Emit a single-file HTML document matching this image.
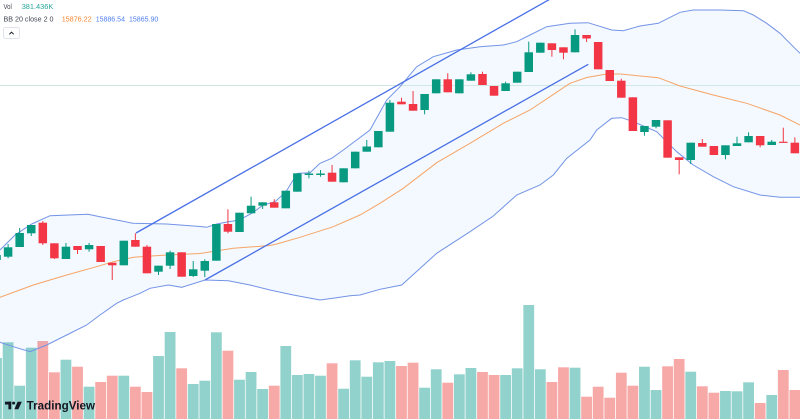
<!DOCTYPE html>
<html><head><meta charset="utf-8"><style>
html,body{margin:0;padding:0;background:#fff;}
svg{display:block;}
.u line{stroke:#089981;stroke-width:1}
.u rect{fill:#089981}
.d line{stroke:#f23645;stroke-width:1}
.d rect{fill:#f23645}
.vu{fill:#92d2cc}
.vd{fill:#f7a9a7}
text{font-family:"Liberation Sans",sans-serif;}
</style></head><body>
<svg width="800" height="419" viewBox="0 0 800 419" xmlns="http://www.w3.org/2000/svg">
<rect width="800" height="419" fill="#fff"/>
<!-- volume -->
<g>
<rect class="vu" x="-8.87" y="358" width="10.8" height="61"/>
<rect class="vu" x="2.70" y="342.3" width="10.8" height="76.7"/>
<rect class="vu" x="14.27" y="385.7" width="10.8" height="33.3"/>
<rect class="vu" x="25.84" y="347.7" width="10.8" height="71.3"/>
<rect class="vd" x="37.41" y="341" width="10.8" height="78"/>
<rect class="vd" x="48.98" y="372.3" width="10.8" height="46.7"/>
<rect class="vu" x="60.55" y="359.7" width="10.8" height="59.3"/>
<rect class="vd" x="72.12" y="366.7" width="10.8" height="52.3"/>
<rect class="vu" x="83.69" y="386.7" width="10.8" height="32.3"/>
<rect class="vd" x="95.26" y="382" width="10.8" height="37"/>
<rect class="vd" x="106.83" y="375.7" width="10.8" height="43.3"/>
<rect class="vu" x="118.40" y="375.7" width="10.8" height="43.3"/>
<rect class="vd" x="129.97" y="386.7" width="10.8" height="32.3"/>
<rect class="vd" x="141.54" y="392" width="10.8" height="27"/>
<rect class="vu" x="153.11" y="356" width="10.8" height="63"/>
<rect class="vu" x="164.68" y="332" width="10.8" height="87"/>
<rect class="vd" x="176.25" y="368.3" width="10.8" height="50.7"/>
<rect class="vu" x="187.82" y="384" width="10.8" height="35"/>
<rect class="vu" x="199.39" y="380.7" width="10.8" height="38.3"/>
<rect class="vu" x="210.96" y="332.3" width="10.8" height="86.7"/>
<rect class="vd" x="222.53" y="350.7" width="10.8" height="68.3"/>
<rect class="vu" x="234.10" y="379.7" width="10.8" height="39.3"/>
<rect class="vu" x="245.67" y="372" width="10.8" height="47"/>
<rect class="vu" x="257.24" y="389" width="10.8" height="30"/>
<rect class="vd" x="268.81" y="385.7" width="10.8" height="33.3"/>
<rect class="vu" x="280.38" y="346" width="10.8" height="73"/>
<rect class="vu" x="291.95" y="375" width="10.8" height="44"/>
<rect class="vu" x="303.52" y="374" width="10.8" height="45"/>
<rect class="vu" x="315.09" y="375.7" width="10.8" height="43.3"/>
<rect class="vd" x="326.66" y="363.3" width="10.8" height="55.7"/>
<rect class="vu" x="338.23" y="388.7" width="10.8" height="30.3"/>
<rect class="vu" x="349.80" y="360.3" width="10.8" height="58.7"/>
<rect class="vu" x="361.37" y="376.7" width="10.8" height="42.3"/>
<rect class="vu" x="372.94" y="362.3" width="10.8" height="56.7"/>
<rect class="vu" x="384.51" y="361" width="10.8" height="58"/>
<rect class="vd" x="396.08" y="366" width="10.8" height="53"/>
<rect class="vd" x="407.65" y="362.7" width="10.8" height="56.3"/>
<rect class="vu" x="419.22" y="387.7" width="10.8" height="31.3"/>
<rect class="vu" x="430.79" y="369.3" width="10.8" height="49.7"/>
<rect class="vd" x="442.36" y="382.7" width="10.8" height="36.3"/>
<rect class="vu" x="453.93" y="374.3" width="10.8" height="44.7"/>
<rect class="vu" x="465.50" y="368" width="10.8" height="51"/>
<rect class="vd" x="477.07" y="372" width="10.8" height="47"/>
<rect class="vd" x="488.64" y="375" width="10.8" height="44"/>
<rect class="vu" x="500.21" y="375" width="10.8" height="44"/>
<rect class="vu" x="511.78" y="368.3" width="10.8" height="50.7"/>
<rect class="vu" x="523.35" y="305" width="10.8" height="114"/>
<rect class="vu" x="534.92" y="369.3" width="10.8" height="49.7"/>
<rect class="vd" x="546.49" y="382" width="10.8" height="37"/>
<rect class="vd" x="558.06" y="367.3" width="10.8" height="51.7"/>
<rect class="vu" x="569.63" y="367.7" width="10.8" height="51.3"/>
<rect class="vd" x="581.20" y="396.7" width="10.8" height="22.3"/>
<rect class="vd" x="592.77" y="386.7" width="10.8" height="32.3"/>
<rect class="vd" x="604.34" y="397.7" width="10.8" height="21.3"/>
<rect class="vd" x="615.91" y="372.7" width="10.8" height="46.3"/>
<rect class="vd" x="627.48" y="385.7" width="10.8" height="33.3"/>
<rect class="vu" x="639.05" y="366.7" width="10.8" height="52.3"/>
<rect class="vu" x="650.62" y="390" width="10.8" height="29"/>
<rect class="vd" x="662.19" y="366.3" width="10.8" height="52.7"/>
<rect class="vd" x="673.76" y="359" width="10.8" height="60"/>
<rect class="vu" x="685.33" y="371.7" width="10.8" height="47.3"/>
<rect class="vd" x="696.90" y="386.3" width="10.8" height="32.7"/>
<rect class="vd" x="708.47" y="392.7" width="10.8" height="26.3"/>
<rect class="vu" x="720.04" y="391" width="10.8" height="28"/>
<rect class="vu" x="731.61" y="391.3" width="10.8" height="27.7"/>
<rect class="vu" x="743.18" y="382.3" width="10.8" height="36.7"/>
<rect class="vd" x="754.75" y="403" width="10.8" height="16"/>
<rect class="vu" x="766.32" y="395" width="10.8" height="24"/>
<rect class="vd" x="777.89" y="370" width="10.8" height="49"/>
<rect class="vd" x="789.46" y="390" width="10.8" height="29"/>
</g>
<!-- band fill -->
<path fill="#2196f3" fill-opacity="0.055" d="M0,250 L15,235 31.7,224 50,215.7 88,214.3 100,216.7 133,223.3 166.7,224 200,226.5 206.7,227.3 216.7,224 228.3,221.7 239.3,220 251.7,213.3 263.3,205 275,201.7 286,191.7 297.3,173.3 310,172.7 320,163.3 331.7,158.3 343.3,150 370,130 386.7,100 400,86.7 416.7,66.7 433.3,56.7 456.7,50 480,46.7 503.3,45 516.7,41.7 530,35 546.7,26.7 570,23.3 588,22.7 611.7,30 623.3,30.7 640,26 658.3,23.3 680,12.3 693.3,10 720,10 743.3,10.7 753.3,15 766.7,23.3 780,33.3 793.3,46.7 800,53.3 L800,197.3 780,197.3 760,195 733.3,186.7 713.3,176.7 693.3,165 676.7,151.7 656.7,131.7 633.3,121.7 621.7,117.7 611.7,118.3 596.7,130 590,140 566.7,158.3 553.3,175 540,185 516.7,195 493.3,216 470,231.7 436.7,253.3 401.7,285 380,289.3 360,295 350,295.7 333,298.3 320,300 293.3,295 270,290 250,285 228.3,280.7 205,280 181.7,287.3 168.3,285 150,288.3 140,293.3 123.3,300 116.7,303.3 100,315 86.7,325 66.7,335 46.7,345 30,351.7 13.3,346.7 0,342.3 Z"/>
<!-- horizontal price line -->
<line x1="0" y1="85.5" x2="800" y2="85.5" stroke="#cfe8e4" stroke-width="1"/>
<!-- bands -->
<polyline fill="none" stroke="#7393e6" stroke-width="1" points="0,250 15,235 31.7,224 50,215.7 88,214.3 100,216.7 133,223.3 166.7,224 200,226.5 206.7,227.3 216.7,224 228.3,221.7 239.3,220 251.7,213.3 263.3,205 275,201.7 286,191.7 297.3,173.3 310,172.7 320,163.3 331.7,158.3 343.3,150 370,130 386.7,100 400,86.7 416.7,66.7 433.3,56.7 456.7,50 480,46.7 503.3,45 516.7,41.7 530,35 546.7,26.7 570,23.3 588,22.7 611.7,30 623.3,30.7 640,26 658.3,23.3 680,12.3 693.3,10 720,10 743.3,10.7 753.3,15 766.7,23.3 780,33.3 793.3,46.7 800,53.3"/>
<polyline fill="none" stroke="#7393e6" stroke-width="1" points="800,197.3 780,197.3 760,195 733.3,186.7 713.3,176.7 693.3,165 676.7,151.7 656.7,131.7 633.3,121.7 621.7,117.7 611.7,118.3 596.7,130 590,140 566.7,158.3 553.3,175 540,185 516.7,195 493.3,216 470,231.7 436.7,253.3 401.7,285 380,289.3 360,295 350,295.7 333,298.3 320,300 293.3,295 270,290 250,285 228.3,280.7 205,280 181.7,287.3 168.3,285 150,288.3 140,293.3 123.3,300 116.7,303.3 100,315 86.7,325 66.7,335 46.7,345 30,351.7 13.3,346.7 0,342.3"/>
<polyline fill="none" stroke="#f6a467" stroke-width="1" points="0,297.3 33.3,285 66.7,275 100,265.7 113.3,261.7 133.3,257.3 166.7,255 200,253.5 233.3,248.3 270,245.5 276.7,244 300,237.3 333.3,226.7 360,215 380,203.3 403.3,188.3 436.7,162.7 470,143.3 503.3,123.3 530,110 550,96.7 570,83.3 586.7,77.5 606.7,74 620,74 658.3,77.7 680,86 713.3,95 746.7,103.3 780,115 800,125"/>
<!-- channel lines -->
<line x1="136" y1="233" x2="552" y2="-2" stroke="#4a70e6" stroke-width="1.3"/>
<line x1="205" y1="280" x2="588.3" y2="64.3" stroke="#4a70e6" stroke-width="1.3"/>
<!-- candles -->
<g>
<g class="u" transform="translate(-3.47,0)"><line x1="0" x2="0" y1="252" y2="262"/><rect x="-4.25" width="8.5" y="255" height="5"/></g>
<g class="u" transform="translate(8.10,0)"><line x1="0" x2="0" y1="244" y2="258.3"/><rect x="-4.25" width="8.5" y="247.3" height="9.4"/></g>
<g class="u" transform="translate(19.67,0)"><line x1="0" x2="0" y1="228" y2="247"/><rect x="-4.25" width="8.5" y="233" height="14"/></g>
<g class="u" transform="translate(31.24,0)"><line x1="0" x2="0" y1="225" y2="236"/><rect x="-4.25" width="8.5" y="225" height="8.3"/></g>
<g class="d" transform="translate(42.81,0)"><line x1="0" x2="0" y1="221" y2="245"/><rect x="-4.25" width="8.5" y="222.7" height="20.6"/></g>
<g class="d" transform="translate(54.38,0)"><line x1="0" x2="0" y1="243.3" y2="259"/><rect x="-4.25" width="8.5" y="243.3" height="15"/></g>
<g class="u" transform="translate(65.95,0)"><line x1="0" x2="0" y1="243" y2="259"/><rect x="-4.25" width="8.5" y="246.7" height="12.3"/></g>
<g class="d" transform="translate(77.52,0)"><line x1="0" x2="0" y1="246" y2="254"/><rect x="-4.25" width="8.5" y="246" height="4"/></g>
<g class="u" transform="translate(89.09,0)"><line x1="0" x2="0" y1="243" y2="251.7"/><rect x="-4.25" width="8.5" y="245" height="4.3"/></g>
<g class="d" transform="translate(100.66,0)"><line x1="0" x2="0" y1="246" y2="262"/><rect x="-4.25" width="8.5" y="246" height="16"/></g>
<g class="d" transform="translate(112.23,0)"><line x1="0" x2="0" y1="262.7" y2="280"/><rect x="-4.25" width="8.5" y="262.7" height="2.6"/></g>
<g class="u" transform="translate(123.80,0)"><line x1="0" x2="0" y1="240.7" y2="265.3"/><rect x="-4.25" width="8.5" y="240.7" height="24.6"/></g>
<g class="d" transform="translate(135.37,0)"><line x1="0" x2="0" y1="233.3" y2="246.7"/><rect x="-4.25" width="8.5" y="240" height="6.7"/></g>
<g class="d" transform="translate(146.94,0)"><line x1="0" x2="0" y1="245" y2="273.3"/><rect x="-4.25" width="8.5" y="246.7" height="26.6"/></g>
<g class="u" transform="translate(158.51,0)"><line x1="0" x2="0" y1="265.7" y2="275"/><rect x="-4.25" width="8.5" y="265.7" height="6"/></g>
<g class="u" transform="translate(170.08,0)"><line x1="0" x2="0" y1="250.7" y2="269"/><rect x="-4.25" width="8.5" y="252.3" height="13.4"/></g>
<g class="d" transform="translate(181.65,0)"><line x1="0" x2="0" y1="252.3" y2="276.7"/><rect x="-4.25" width="8.5" y="252.3" height="24.4"/></g>
<g class="u" transform="translate(193.22,0)"><line x1="0" x2="0" y1="261" y2="277"/><rect x="-4.25" width="8.5" y="269.3" height="6.7"/></g>
<g class="u" transform="translate(204.79,0)"><line x1="0" x2="0" y1="259.3" y2="277"/><rect x="-4.25" width="8.5" y="261" height="9.7"/></g>
<g class="u" transform="translate(216.36,0)"><line x1="0" x2="0" y1="224" y2="260.7"/><rect x="-4.25" width="8.5" y="224" height="36.7"/></g>
<g class="d" transform="translate(227.93,0)"><line x1="0" x2="0" y1="209.3" y2="233.3"/><rect x="-4.25" width="8.5" y="224" height="7.7"/></g>
<g class="u" transform="translate(239.50,0)"><line x1="0" x2="0" y1="212.7" y2="232"/><rect x="-4.25" width="8.5" y="212.7" height="19.3"/></g>
<g class="u" transform="translate(251.07,0)"><line x1="0" x2="0" y1="196.7" y2="213.3"/><rect x="-4.25" width="8.5" y="205.7" height="7.6"/></g>
<g class="u" transform="translate(262.64,0)"><line x1="0" x2="0" y1="202.3" y2="209"/><rect x="-4.25" width="8.5" y="202.3" height="3.4"/></g>
<g class="d" transform="translate(274.21,0)"><line x1="0" x2="0" y1="199.3" y2="207.7"/><rect x="-4.25" width="8.5" y="202.3" height="5.4"/></g>
<g class="u" transform="translate(285.78,0)"><line x1="0" x2="0" y1="190.7" y2="208.3"/><rect x="-4.25" width="8.5" y="190.7" height="17.6"/></g>
<g class="u" transform="translate(297.35,0)"><line x1="0" x2="0" y1="173.3" y2="191.7"/><rect x="-4.25" width="8.5" y="173.3" height="18.4"/></g>
<g class="u" transform="translate(308.92,0)"><line x1="0" x2="0" y1="170.7" y2="178.3"/><rect x="-4.25" width="8.5" y="173.5" height="1.5"/></g>
<g class="u" transform="translate(320.49,0)"><line x1="0" x2="0" y1="170" y2="176.7"/><rect x="-4.25" width="8.5" y="173.5" height="1.5"/></g>
<g class="d" transform="translate(332.06,0)"><line x1="0" x2="0" y1="165" y2="181.7"/><rect x="-4.25" width="8.5" y="172.7" height="9"/></g>
<g class="u" transform="translate(343.63,0)"><line x1="0" x2="0" y1="168.3" y2="182.3"/><rect x="-4.25" width="8.5" y="168.3" height="14"/></g>
<g class="u" transform="translate(355.20,0)"><line x1="0" x2="0" y1="151.7" y2="168.3"/><rect x="-4.25" width="8.5" y="151.7" height="16.6"/></g>
<g class="u" transform="translate(366.77,0)"><line x1="0" x2="0" y1="140" y2="151.7"/><rect x="-4.25" width="8.5" y="146.5" height="5.2"/></g>
<g class="u" transform="translate(378.34,0)"><line x1="0" x2="0" y1="131" y2="147.3"/><rect x="-4.25" width="8.5" y="131" height="16.3"/></g>
<g class="u" transform="translate(389.91,0)"><line x1="0" x2="0" y1="100" y2="131.7"/><rect x="-4.25" width="8.5" y="102.7" height="29"/></g>
<g class="d" transform="translate(401.48,0)"><line x1="0" x2="0" y1="97.7" y2="104.3"/><rect x="-4.25" width="8.5" y="101.7" height="2.6"/></g>
<g class="d" transform="translate(413.05,0)"><line x1="0" x2="0" y1="91" y2="110.7"/><rect x="-4.25" width="8.5" y="104" height="6.7"/></g>
<g class="u" transform="translate(424.62,0)"><line x1="0" x2="0" y1="94" y2="114.3"/><rect x="-4.25" width="8.5" y="94" height="16"/></g>
<g class="u" transform="translate(436.19,0)"><line x1="0" x2="0" y1="79.3" y2="93.3"/><rect x="-4.25" width="8.5" y="79.3" height="14"/></g>
<g class="d" transform="translate(447.76,0)"><line x1="0" x2="0" y1="73.3" y2="92.3"/><rect x="-4.25" width="8.5" y="79.3" height="13"/></g>
<g class="u" transform="translate(459.33,0)"><line x1="0" x2="0" y1="79.3" y2="93.3"/><rect x="-4.25" width="8.5" y="79.3" height="14"/></g>
<g class="u" transform="translate(470.90,0)"><line x1="0" x2="0" y1="72.3" y2="80.7"/><rect x="-4.25" width="8.5" y="74.3" height="6.4"/></g>
<g class="d" transform="translate(482.47,0)"><line x1="0" x2="0" y1="71.7" y2="85"/><rect x="-4.25" width="8.5" y="74" height="11"/></g>
<g class="d" transform="translate(494.04,0)"><line x1="0" x2="0" y1="86" y2="95.7"/><rect x="-4.25" width="8.5" y="86" height="9.7"/></g>
<g class="u" transform="translate(505.61,0)"><line x1="0" x2="0" y1="81.7" y2="91"/><rect x="-4.25" width="8.5" y="83.3" height="7.7"/></g>
<g class="u" transform="translate(517.18,0)"><line x1="0" x2="0" y1="71.7" y2="82.7"/><rect x="-4.25" width="8.5" y="71.7" height="11"/></g>
<g class="u" transform="translate(528.75,0)"><line x1="0" x2="0" y1="41.7" y2="72"/><rect x="-4.25" width="8.5" y="52.3" height="19.7"/></g>
<g class="u" transform="translate(540.32,0)"><line x1="0" x2="0" y1="42.7" y2="52.7"/><rect x="-4.25" width="8.5" y="42.7" height="10"/></g>
<g class="d" transform="translate(551.89,0)"><line x1="0" x2="0" y1="43.3" y2="56.7"/><rect x="-4.25" width="8.5" y="43.3" height="6.7"/></g>
<g class="d" transform="translate(563.46,0)"><line x1="0" x2="0" y1="47.3" y2="59.3"/><rect x="-4.25" width="8.5" y="47.3" height="5.4"/></g>
<g class="u" transform="translate(575.03,0)"><line x1="0" x2="0" y1="29.3" y2="52.3"/><rect x="-4.25" width="8.5" y="35" height="17.3"/></g>
<g class="d" transform="translate(586.60,0)"><line x1="0" x2="0" y1="35" y2="42"/><rect x="-4.25" width="8.5" y="35" height="3.5"/></g>
<g class="d" transform="translate(598.17,0)"><line x1="0" x2="0" y1="42" y2="69.3"/><rect x="-4.25" width="8.5" y="42" height="27.3"/></g>
<g class="d" transform="translate(609.74,0)"><line x1="0" x2="0" y1="70" y2="81"/><rect x="-4.25" width="8.5" y="70" height="11"/></g>
<g class="d" transform="translate(621.31,0)"><line x1="0" x2="0" y1="78.7" y2="97.7"/><rect x="-4.25" width="8.5" y="80.7" height="17"/></g>
<g class="d" transform="translate(632.88,0)"><line x1="0" x2="0" y1="97.3" y2="131"/><rect x="-4.25" width="8.5" y="97.3" height="33.7"/></g>
<g class="u" transform="translate(644.45,0)"><line x1="0" x2="0" y1="126" y2="135.7"/><rect x="-4.25" width="8.5" y="126" height="6"/></g>
<g class="u" transform="translate(656.02,0)"><line x1="0" x2="0" y1="120" y2="128.3"/><rect x="-4.25" width="8.5" y="120" height="6.7"/></g>
<g class="d" transform="translate(667.59,0)"><line x1="0" x2="0" y1="120.3" y2="157.7"/><rect x="-4.25" width="8.5" y="120.3" height="37.4"/></g>
<g class="d" transform="translate(679.16,0)"><line x1="0" x2="0" y1="157.3" y2="174.3"/><rect x="-4.25" width="8.5" y="157.3" height="2.7"/></g>
<g class="u" transform="translate(690.73,0)"><line x1="0" x2="0" y1="142.7" y2="164"/><rect x="-4.25" width="8.5" y="142.7" height="17.3"/></g>
<g class="d" transform="translate(702.30,0)"><line x1="0" x2="0" y1="139" y2="146.7"/><rect x="-4.25" width="8.5" y="143" height="3.7"/></g>
<g class="d" transform="translate(713.87,0)"><line x1="0" x2="0" y1="146" y2="155"/><rect x="-4.25" width="8.5" y="146" height="9"/></g>
<g class="u" transform="translate(725.44,0)"><line x1="0" x2="0" y1="145.3" y2="159.3"/><rect x="-4.25" width="8.5" y="145.3" height="9.7"/></g>
<g class="u" transform="translate(737.01,0)"><line x1="0" x2="0" y1="136.7" y2="146"/><rect x="-4.25" width="8.5" y="143.3" height="2.7"/></g>
<g class="u" transform="translate(748.58,0)"><line x1="0" x2="0" y1="132.3" y2="142.3"/><rect x="-4.25" width="8.5" y="136" height="6.3"/></g>
<g class="d" transform="translate(760.15,0)"><line x1="0" x2="0" y1="136" y2="147.3"/><rect x="-4.25" width="8.5" y="136" height="9.3"/></g>
<g class="u" transform="translate(771.72,0)"><line x1="0" x2="0" y1="140" y2="145"/><rect x="-4.25" width="8.5" y="141.7" height="3.3"/></g>
<g class="d" transform="translate(783.29,0)"><line x1="0" x2="0" y1="127.7" y2="142.7"/><rect x="-4.25" width="8.5" y="141.7" height="1.2"/></g>
<g class="d" transform="translate(794.86,0)"><line x1="0" x2="0" y1="137.3" y2="153.3"/><rect x="-4.25" width="8.5" y="142.7" height="10.6"/></g>
</g>
<!-- legend -->
<g font-size="7.7">
<text x="3.5" y="9" fill="#434651" textLength="8.3" lengthAdjust="spacingAndGlyphs">Vol</text>
<text x="21.7" y="9" fill="#26a69a" textLength="31.6" lengthAdjust="spacingAndGlyphs">381.436K</text>
<text x="3.5" y="21.6" fill="#434651" textLength="50" lengthAdjust="spacingAndGlyphs">BB 20 close 2 0</text>
<text x="61.7" y="21.6" fill="#f7852f" textLength="30" lengthAdjust="spacingAndGlyphs">15876.22</text>
<text x="95.7" y="21.6" fill="#4f7ff0" textLength="29.3" lengthAdjust="spacingAndGlyphs">15886.54</text>
<text x="129" y="21.6" fill="#4f7ff0" textLength="29.3" lengthAdjust="spacingAndGlyphs">15865.90</text>
</g>
<rect x="3.5" y="27.5" width="16" height="11" rx="2" fill="#fff" stroke="#e0e3eb" stroke-width="1"/>
<polyline points="9.3,34.3 11.5,32.2 13.7,34.3" fill="none" stroke="#131722" stroke-width="1"/>
<!-- logo -->
<g fill="#131722">
<rect x="5" y="401.7" width="6.2" height="2.8"/>
<rect x="8.4" y="401.7" width="2.8" height="7.6"/>
<circle cx="13.6" cy="403.1" r="1.45"/>
<polygon points="17.6,401.7 21.8,401.7 18.4,409.3 14.4,409.3"/>
<text x="26.7" y="409.6" font-size="11.5" font-weight="bold" textLength="68.3" lengthAdjust="spacingAndGlyphs">TradingView</text>
</g>
</svg>
</body></html>
